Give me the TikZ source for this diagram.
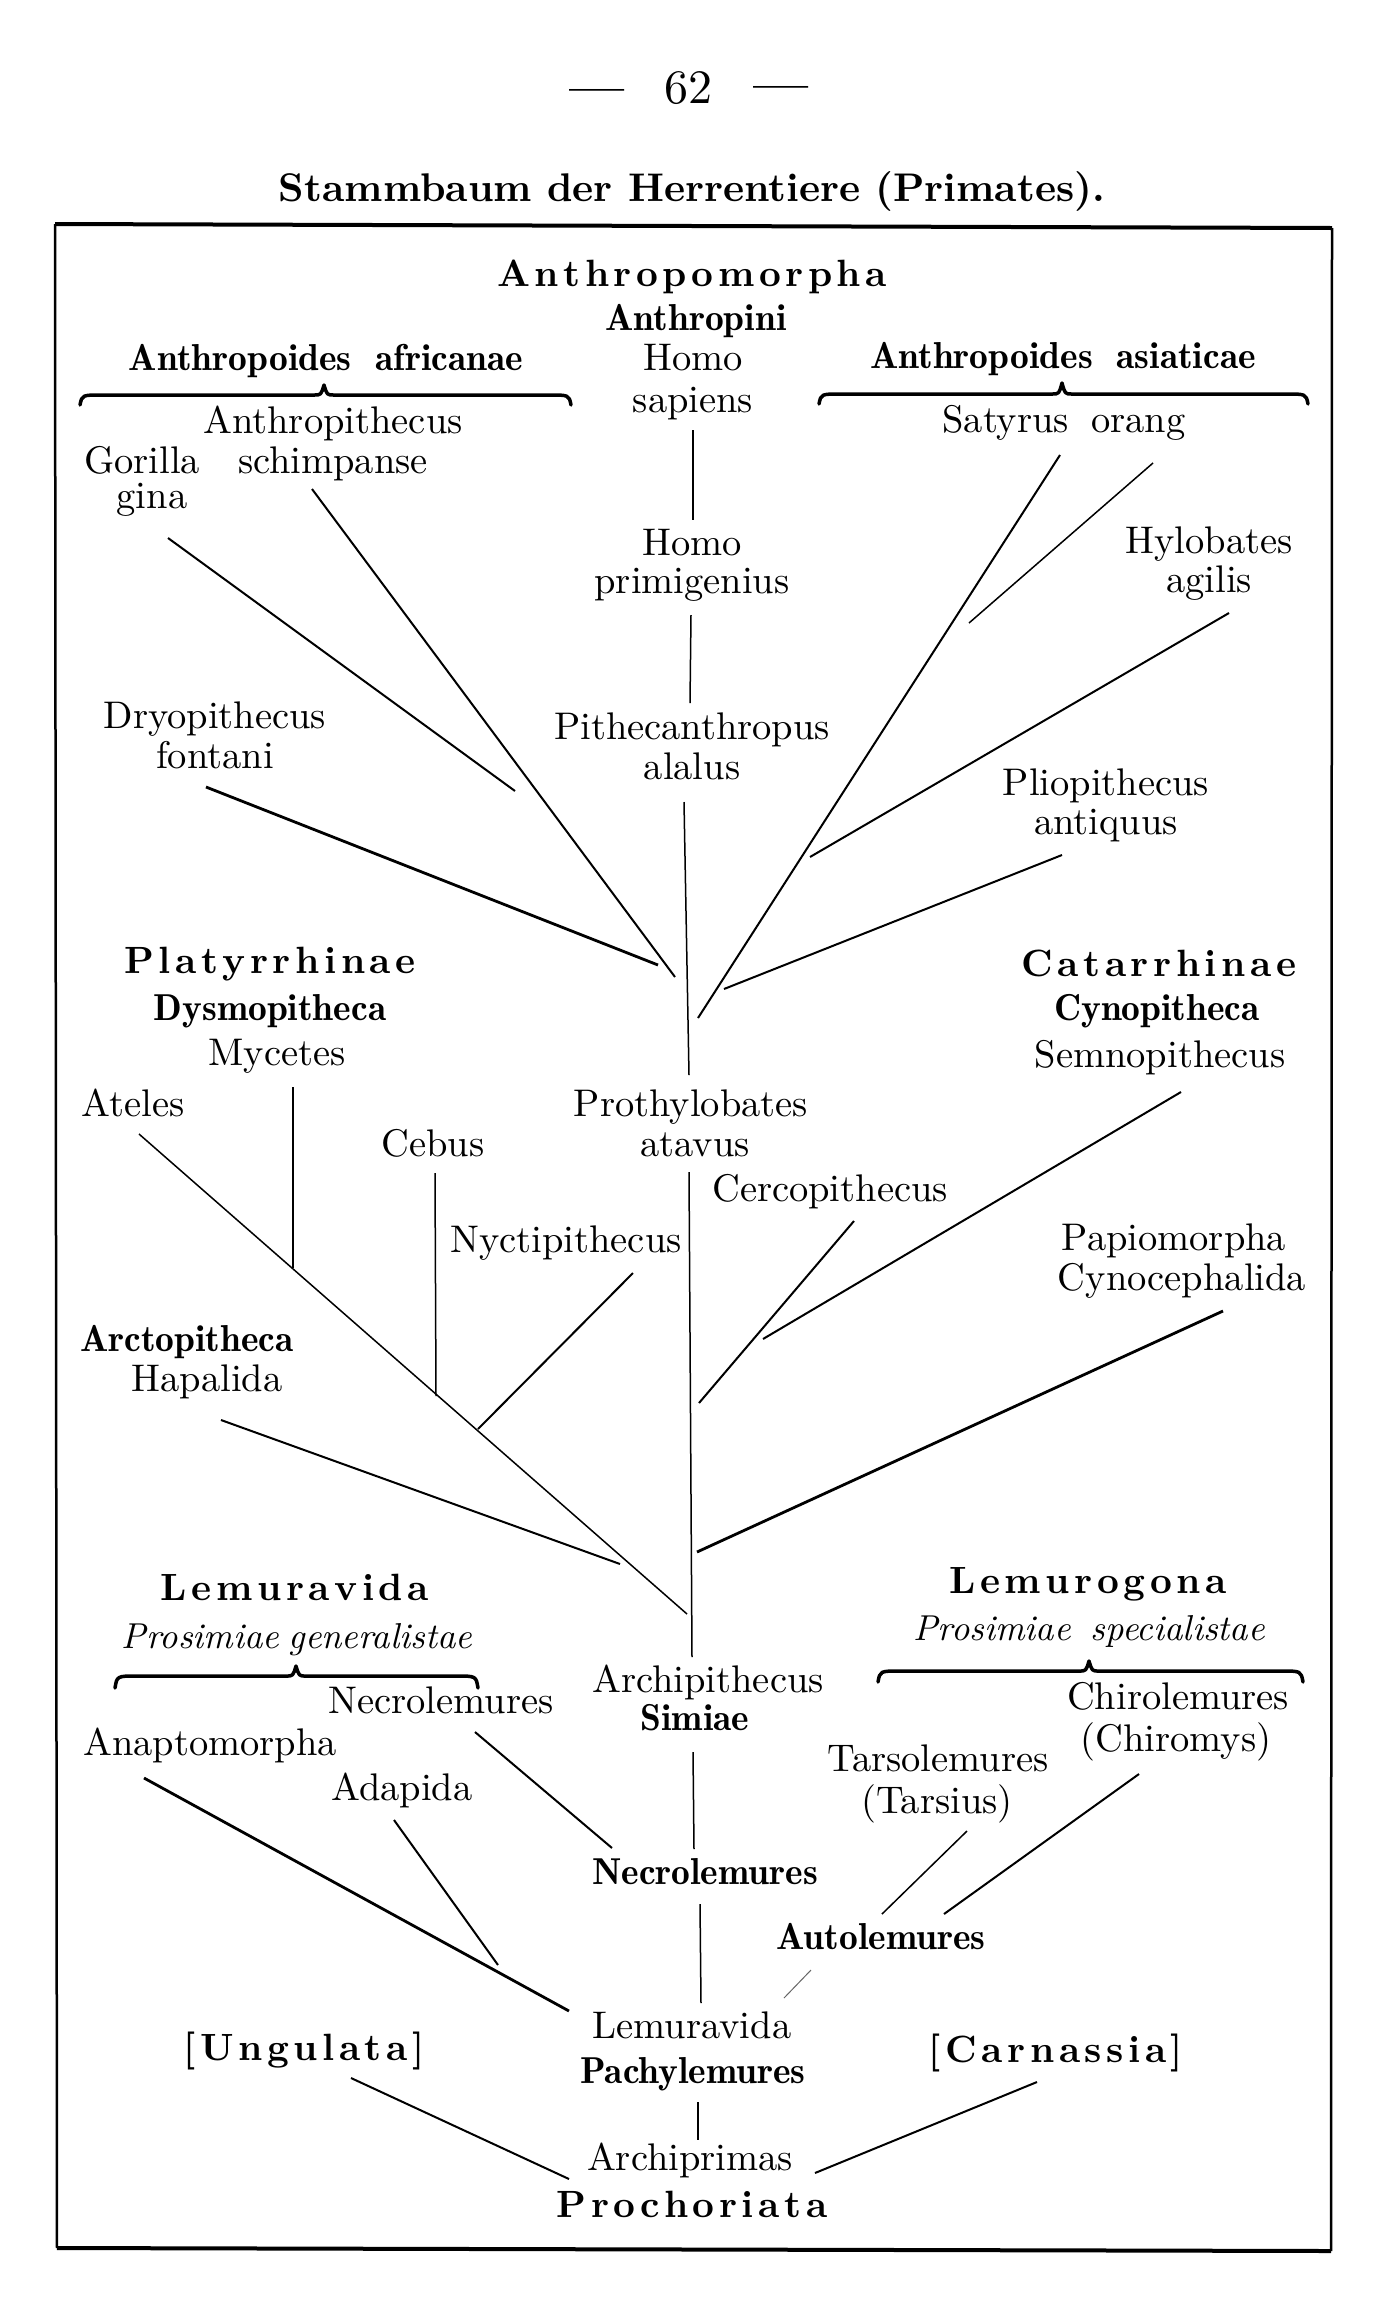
\documentclass[tikz,border=0pt]{standalone}
\makeatletter
\newcommand\lsp[1]{\def\lsp@f{1}\@tfor\lsp@c:=#1\do{\ifx\lsp@f\@empty\kern1.2pt\fi\let\lsp@f\@empty\lsp@c}}
\makeatother
\tikzset{
  base/.style={anchor=base, inner sep=0pt, outer sep=0pt},
  reg/.style={base, scale=3.85, font=\fontsize{10}{12}\selectfont},
  bld/.style={base, scale=3.75, font=\fontsize{10}{12}\fontseries{b}\selectfont},
  hd/.style={base, scale=3.8, font=\fontsize{10}{12}\bfseries},
  itl/.style={base, scale=3.6, font=\fontsize{10}{12}\itshape},
  ttl/.style={base, scale=4.0, font=\fontsize{10}{12}\bfseries},
  pg/.style={base, scale=4.8, font=\fontsize{10}{12}\selectfont},
  br/.style={line width=2pt},
  brt/.style={line width=1.5pt},
  brk/.style={line width=2.8pt},
  faint/.style={line width=1pt, black!60},
  brc/.style={line width=3.5pt, line join=round, line cap=round},
  frm/.style={line width=2.5pt},
  frmk/.style={line width=4pt}
}
\newcommand\brc[6]{% x1 x2 xm y0 ytip yend
  \draw[brc] (#1,#6) .. controls (#1+2,#4) .. (#1+22,#4) -- (#3-10,#4)
    .. controls (#3-3,#4) .. (#3,#5) .. controls (#3+3,#4) .. (#3+10,#4)
    -- (#2-22,#4) .. controls (#2-2,#4) .. (#2,#6);}
\begin{document}
\begin{tikzpicture}[x=1pt,y=-1pt]
\useasboundingbox (0,0) rectangle (1388,2308);
\fill[white] (0,0) rectangle (1388,2308);
% frame
\coordinate (ftl) at (55,224); \coordinate (ftr) at (1332,228);
\coordinate (fbl) at (57,2248); \coordinate (fbr) at (1331,2251);
\draw[frmk] (ftl) -- (ftr);
\draw[frmk] (fbl) -- (fbr);
\draw[frm] (ftl) -- (fbl);
\draw[frm] (ftr) -- (fbr);
% page number and title
\node[pg] (dashl) at (597,103) {\bfseries ---};
\node[pg] (pnum) at (688,103) {62};
\node[pg] (dashr) at (781,100) {\bfseries ---};
\node[ttl] (title) at (692,201) {Stammbaum der Herrentiere (Primates).};
% top
\node[hd] (anthropomorpha) at (692,286) {\lsp{Anthropomorpha}};
\node[bld] (anthropini) at (696,330) {Anthropini};
\node[reg] (homo1) at (693,370) {Homo};
\node[reg] (sapiens) at (693,412) {sapiens};
\node[bld] (africanae) at (326,370) {Anthropoides\hspace{0.3em} africanae};
\node[bld] (asiaticae) at (1063,368) {Anthropoides\hspace{0.3em} asiaticae};
\brc{80}{571}{324}{395}{385}{405}
\brc{819}{1308}{1062}{394}{383}{404}
\node[reg] (anthropithecus) at (333,433) {Anthropithecus};
\node[reg] (schimpanse) at (333,473) {schimpanse};
\node[reg] (gorilla) at (142,473) {Gorilla};
\node[reg] (gina) at (152,508) {gina};
\node[reg] (satyrus) at (1064,432) {Satyrus\hspace{0.25em} orang};
\node[reg] (hylobates) at (1209,553) {Hylobates};
\node[reg] (agilis) at (1209,592) {agilis};
\node[reg] (homo2) at (692,555) {Homo};
\node[reg] (primigenius) at (692,593) {primigenius};
\node[reg] (dryopithecus) at (215,728) {Dryopithecus};
\node[reg] (fontani) at (215,768) {fontani};
\node[reg] (pithecanthropus) at (692,739) {Pithecanthropus};
\node[reg] (alalus) at (692,779) {alalus};
\node[reg] (pliopithecus) at (1106,795) {Pliopithecus};
\node[reg] (antiquus) at (1106,834) {antiquus};
% middle
\node[hd] (platyrrhinae) at (270,973) {\lsp{Platyrrhinae}};
\node[bld] (dysmopitheca) at (270,1020) {Dysmopitheca};
\node[reg] (mycetes) at (277,1065) {Mycetes};
\node[hd] (catarrhinae) at (1159,976) {\lsp{Catarrhinae}};
\node[bld] (cynopitheca) at (1157,1020) {Cynopitheca};
\node[reg] (semnopithecus) at (1160,1067) {Semnopithecus};
\node[reg] (ateles) at (133,1116) {Ateles};
\node[reg] (prothylobates) at (691,1116) {Prothylobates};
\node[reg] (atavus) at (695,1156) {atavus};
\node[reg] (cebus) at (433,1156) {Cebus};
\node[reg] (cercopithecus) at (830,1201) {Cercopithecus};
\node[reg] (nyctipithecus) at (566,1252) {Nyctipithecus};
\node[reg] (papiomorpha) at (1174,1250) {Papiomorpha};
\node[reg] (cynocephalida) at (1182,1290) {Cynocephalida};
\node[bld] (arctopitheca) at (187,1351) {Arctopitheca};
\node[reg] (hapalida) at (207,1391) {Hapalida};
% lower
\node[hd] (lemuravida) at (295,1600) {\lsp{Lemuravida}};
\node[itl] (generalistae) at (297,1648) {Prosimiae\hspace{-0.1em} generalistae};
\brc{115}{478}{296}{1676}{1666}{1688}
\node[reg] (necrolemures1) at (441,1713) {Necrolemures};
\node[reg] (anaptomorpha) at (210,1755) {Anaptomorpha};
\node[reg] (adapida) at (402,1800) {Adapida};
\node[reg] (archipithecus) at (708,1692) {Archipithecus};
\node[bld] (simiae) at (695,1730) {Simiae};
\node[hd] (lemurogona) at (1088,1593) {\lsp{Lemurogona}};
\node[itl] (specialistae) at (1089,1640) {Prosimiae\hspace{0.2em} specialistae};
\brc{878}{1303}{1089}{1671}{1661}{1682}
\node[reg] (chirolemures) at (1178,1709) {Chirolemures};
\node[reg] (chiromys) at (1176,1751) {(Chiromys)};
\node[reg] (tarsolemures) at (938,1771) {Tarsolemures};
\node[reg] (tarsius) at (937,1813) {(Tarsius)};
\node[bld] (necrolemures2) at (705,1884) {Necrolemures};
\node[bld] (autolemures) at (881,1949) {Autolemures};
\node[reg] (lemuravida2) at (692,2038) {Lemuravida};
\node[bld] (pachylemures) at (693,2083) {Pachylemures};
\node[hd] (ungulata) at (304,2060) {\lsp{[Ungulata]}};
\node[hd] (carnassia) at (1056,2062) {\lsp{[Carnassia]}};
\node[reg] (archiprimas) at (690,2170) {Archiprimas};
\node[hd] (prochoriata) at (692,2217) {\lsp{Prochoriata}};
% line end points
\coordinate (hs1) at (693,430); \coordinate (hs2) at (693,520);
\coordinate (hp1) at (691,615); \coordinate (hp2) at (690,703);
\coordinate (pa1) at (684,802); \coordinate (pa2) at (689,1075);
\coordinate (go1) at (168,538); \coordinate (go2) at (515,791);
\coordinate (an1) at (312,489); \coordinate (an2) at (675,977);
\coordinate (dr1) at (206,787); \coordinate (dr2) at (658,965);
\coordinate (sa1) at (1060,455); \coordinate (sa2) at (698,1018);
\coordinate (sb1) at (1153,463); \coordinate (sb2) at (969,623);
\coordinate (hy1) at (1229,613); \coordinate (hy2) at (810,857);
\coordinate (pl1) at (1062,855); \coordinate (pl2) at (724,989);
\coordinate (my1) at (293,1087); \coordinate (my2) at (293,1268);
\coordinate (at1) at (139,1134); \coordinate (at2) at (687,1614);
\coordinate (ce1) at (435,1173); \coordinate (ce2) at (436,1396);
\coordinate (ny1) at (633,1273); \coordinate (ny2) at (478,1429);
\coordinate (pr1) at (689,1172); \coordinate (pr2) at (692,1657);
\coordinate (cc1) at (854,1221); \coordinate (cc2) at (699,1403);
\coordinate (se1) at (1181,1092); \coordinate (se2) at (763,1339);
\coordinate (pm1) at (1223,1311); \coordinate (pm2) at (697,1552);
\coordinate (ha1) at (221,1420); \coordinate (ha2) at (620,1564);
\coordinate (si1) at (693,1752); \coordinate (si2) at (694,1849);
\coordinate (nl1) at (475,1732); \coordinate (nl2) at (612,1848);
\coordinate (ne1) at (700,1904); \coordinate (ne2) at (701,2003);
\coordinate (ap1) at (144,1778); \coordinate (ap2) at (569,2011);
\coordinate (ad1) at (394,1820); \coordinate (ad2) at (498,1965);
\coordinate (ta1) at (967,1831); \coordinate (ta2) at (882,1914);
\coordinate (ch1) at (1139,1774); \coordinate (ch2) at (944,1914);
\coordinate (au1) at (811,1970); \coordinate (au2) at (784,1998);
\coordinate (pc1) at (698,2102); \coordinate (pc2) at (698,2140);
\coordinate (un1) at (351,2078); \coordinate (un2) at (569,2179);
\coordinate (ca1) at (1037,2082); \coordinate (ca2) at (815,2173);
% connectors
\draw[brt] (hs1) -- (hs2);
\draw[brt] (hp1) -- (hp2);
\draw[brt] (pa1) -- (pa2);
\draw[br] (go1) -- (go2);
\draw[br] (an1) -- (an2);
\draw[brk] (dr1) -- (dr2);
\draw[br] (sa1) -- (sa2);
\draw[brt] (sb1) -- (sb2);
\draw[br] (hy1) -- (hy2);
\draw[br] (pl1) -- (pl2);
\draw[brt] (my1) -- (my2);
\draw[brt] (at1) -- (at2);
\draw[brt] (ce1) -- (ce2);
\draw[br] (ny1) -- (ny2);
\draw[brt] (pr1) -- (pr2);
\draw[br] (cc1) -- (cc2);
\draw[br] (se1) -- (se2);
\draw[brk] (pm1) -- (pm2);
\draw[br] (ha1) -- (ha2);
\draw[brt] (si1) -- (si2);
\draw[br] (nl1) -- (nl2);
\draw[brt] (ne1) -- (ne2);
\draw[brk] (ap1) -- (ap2);
\draw[br] (ad1) -- (ad2);
\draw[brt] (ta1) -- (ta2);
\draw[br] (ch1) -- (ch2);
\draw[faint] (au1) -- (au2);
\draw[brt] (pc1) -- (pc2);
\draw[br] (un1) -- (un2);
\draw[br] (ca1) -- (ca2);
\end{tikzpicture}
\end{document}
